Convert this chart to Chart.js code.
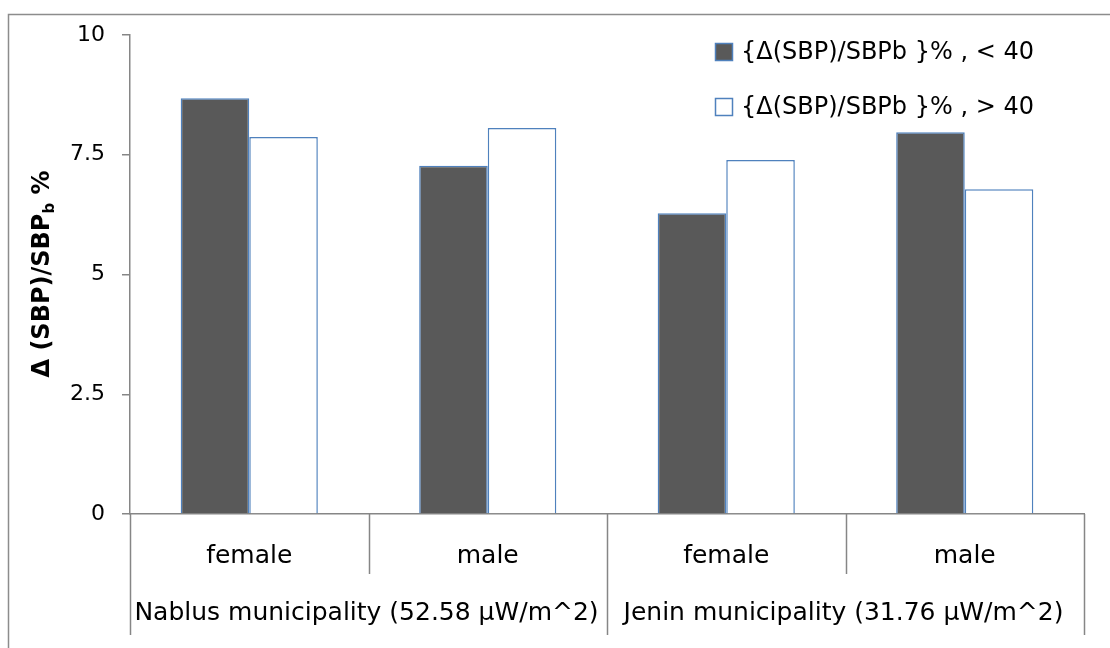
<!DOCTYPE html>
<html>
<head>
<meta charset="utf-8">
<script src="https://cdn.jsdelivr.net/npm/chart.js@4/dist/chart.umd.min.js"></script>
<style>
html,body{margin:0;padding:0;background:#fff;}
#wrap{width:1110px;height:648px;position:relative;}
</style>
</head>
<body>
<div id="wrap"><canvas id="c" width="1110" height="648"></canvas></div>
<script>
// ---- data ----
const categories = ['female', 'male', 'female', 'male'];
const groups = ['Nablus municipality (52.58 \u00B5W/m^2)', 'Jenin municipality (31.76 \u00B5W/m^2)'];
const groupSpans = [2, 2];
const seriesNames = ['{\u0394(SBP)/SBPb }% , < 40', '{\u0394(SBP)/SBPb }% , > 40'];
const below40 = [8.68, 7.27, 6.28, 7.97];
const above40 = [7.87, 8.06, 7.39, 6.78];
const yTicks = [0, 2.5, 5, 7.5, 10];

const FONT = '"DejaVu Sans", sans-serif';
const FS = 24;
const AXIS = '#868686';

const decor = {
  id: 'decor',
  afterDraw(chart) {
    const ctx = chart.ctx;
    const x = chart.scales.x, ca = chart.chartArea;
    ctx.save();
    // outer border (left & top visible)
    ctx.strokeStyle = '#8c8c8c';
    ctx.lineWidth = 1.5;
    ctx.beginPath();
    ctx.moveTo(8.5, 700); ctx.lineTo(8.5, 14.5); ctx.lineTo(1200, 14.5);
    ctx.stroke();
    // category separators
    const n = categories.length;
    const step = (x.getPixelForValue(1) - x.getPixelForValue(0));
    ctx.strokeStyle = AXIS;
    ctx.lineWidth = 1.5;
    let acc = 0;
    const longIdx = new Set([0]);
    groupSpans.forEach(s => { acc += s; longIdx.add(acc); });
    for (let i = 0; i <= n; i++) {
      const px = Math.round(x.getPixelForValue(i) - step / 2) + 0.5;
      const yEnd = longIdx.has(i) ? 635 : 574;
      ctx.beginPath(); ctx.moveTo(px, ca.bottom); ctx.lineTo(px, yEnd); ctx.stroke();
    }
    // group labels
    ctx.fillStyle = '#000';
    ctx.font = '25px ' + FONT;
    ctx.textAlign = 'center';
    ctx.textBaseline = 'middle';
    let start = 0;
    groups.forEach((g, gi) => {
      const l = x.getPixelForValue(start) - step / 2;
      const r = x.getPixelForValue(start + groupSpans[gi] - 1) + step / 2;
      ctx.fillText(g, (l + r) / 2 - 2, 613);
      start += groupSpans[gi];
    });
    // legend
    const ds = chart.data.datasets;
    ctx.textAlign = 'left';
    ctx.font = FS + 'px ' + FONT;
    ds.forEach((d, i) => {
      const cy = 52 + i * 55;
      ctx.fillStyle = d.backgroundColor;
      ctx.fillRect(715, cy - 9, 18, 18);
      ctx.strokeStyle = d.borderColor;
      ctx.lineWidth = 1.5;
      ctx.strokeRect(715.5, cy - 8.5, 17, 17);
      ctx.fillStyle = '#000';
      ctx.fillText(d.label, 741, cy + 1);
    });
    // y axis title with subscript
    ctx.translate(40, 274);
    ctx.rotate(-Math.PI / 2);
    const big = 'bold ' + FS + 'px ' + FONT, small = 'bold 15px ' + FONT;
    const p1 = '\u0394 (SBP)/SBP', p2 = 'b', p3 = ' %';
    ctx.font = big; const w1 = ctx.measureText(p1).width, w3 = ctx.measureText(p3).width;
    ctx.font = small; const w2 = ctx.measureText(p2).width;
    let sx = -(w1 + w2 + w3) / 2;
    ctx.textAlign = 'left';
    ctx.textBaseline = 'alphabetic';
    ctx.fillStyle = '#000';
    ctx.font = big; ctx.fillText(p1, sx, 9); sx += w1;
    ctx.font = small; ctx.fillText(p2, sx, 14); sx += w2;
    ctx.font = big; ctx.fillText(p3, sx, 9);
    ctx.restore();
  }
};

new Chart(document.getElementById('c'), {
  type: 'bar',
  data: {
    labels: categories,
    datasets: [
      { label: seriesNames[0], data: below40, backgroundColor: '#595959', borderColor: '#4F81BD', borderWidth: 1.5 },
      { label: seriesNames[1], data: above40, backgroundColor: '#ffffff', borderColor: '#4F81BD', borderWidth: 1.5 }
    ]
  },
  options: {
    responsive: false,
    animation: false,
    devicePixelRatio: 1,
    layout: { padding: { left: 0, right: 26, top: 35, bottom: 0 } },
    datasets: { bar: { categoryPercentage: 0.575, barPercentage: 1.0 } },
    plugins: { legend: { display: false }, tooltip: { enabled: false } },
    scales: {
      x: {
        grid: { display: false, drawTicks: false },
        border: { display: true, color: AXIS, width: 1.5 },
        ticks: { color: '#000', font: { family: FONT, size: 25 }, padding: 27, maxRotation: 0 },
        afterFit(s) { s.height = 134; }
      },
      y: {
        min: 0, max: 10,
        afterBuildTicks(s) { s.ticks = yTicks.map(v => ({ value: v })); },
        grid: { drawOnChartArea: false, drawTicks: true, tickLength: 8, color: AXIS, lineWidth: 1.5 },
        border: { display: true, color: AXIS, width: 1.5 },
        ticks: { color: '#000', font: { family: FONT, size: 22 }, padding: 17 },
        afterFit(s) { s.width = 130; }
      }
    }
  },
  plugins: [decor]
});
</script>
</body>
</html>
